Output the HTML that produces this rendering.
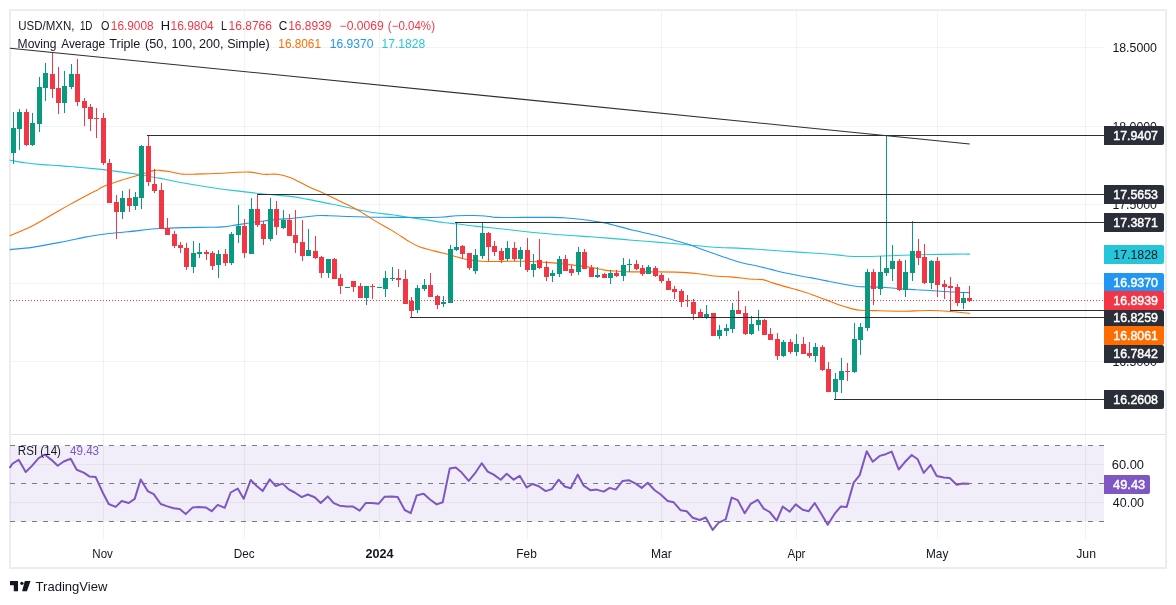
<!DOCTYPE html>
<html><head><meta charset="utf-8"><title>USD/MXN</title>
<style>html,body{margin:0;padding:0;background:#fff;}body{width:1176px;height:605px;position:relative;overflow:hidden;font-family:"Liberation Sans",sans-serif;}</style>
</head><body>
<svg width="1176" height="605" viewBox="0 0 1176 605" style="position:absolute;left:0;top:0;will-change:transform">
<g shape-rendering="crispEdges">
<rect x="10" y="10" width="1156" height="558" fill="none" stroke="#ebedf2" stroke-width="2"/>
<rect x="11" y="434" width="1154" height="1" fill="#e0e3eb"/>
<rect x="10" y="445.5" width="1094" height="76" fill="#7e57c2" fill-opacity="0.1" shape-rendering="auto"/>
<rect x="103" y="11" width="1" height="423" fill="#2a2e39" fill-opacity="0.06"/>
<rect x="103" y="435" width="1" height="104" fill="#1e222d" fill-opacity="0.06"/>
<rect x="244" y="11" width="1" height="423" fill="#2a2e39" fill-opacity="0.06"/>
<rect x="244" y="435" width="1" height="104" fill="#1e222d" fill-opacity="0.06"/>
<rect x="379" y="11" width="1" height="423" fill="#2a2e39" fill-opacity="0.06"/>
<rect x="379" y="435" width="1" height="104" fill="#1e222d" fill-opacity="0.06"/>
<rect x="527" y="11" width="1" height="423" fill="#2a2e39" fill-opacity="0.06"/>
<rect x="527" y="435" width="1" height="104" fill="#1e222d" fill-opacity="0.06"/>
<rect x="661" y="11" width="1" height="423" fill="#2a2e39" fill-opacity="0.06"/>
<rect x="661" y="435" width="1" height="104" fill="#1e222d" fill-opacity="0.06"/>
<rect x="796" y="11" width="1" height="423" fill="#2a2e39" fill-opacity="0.06"/>
<rect x="796" y="435" width="1" height="104" fill="#1e222d" fill-opacity="0.06"/>
<rect x="937" y="11" width="1" height="423" fill="#2a2e39" fill-opacity="0.06"/>
<rect x="937" y="435" width="1" height="104" fill="#1e222d" fill-opacity="0.06"/>
<rect x="1085" y="11" width="1" height="423" fill="#2a2e39" fill-opacity="0.06"/>
<rect x="1085" y="435" width="1" height="104" fill="#1e222d" fill-opacity="0.06"/>
<rect x="11" y="47" width="1093" height="1" fill="#2a2e39" fill-opacity="0.06"/>
<rect x="11" y="126" width="1093" height="1" fill="#2a2e39" fill-opacity="0.06"/>
<rect x="11" y="204" width="1093" height="1" fill="#2a2e39" fill-opacity="0.06"/>
<rect x="11" y="283" width="1093" height="1" fill="#2a2e39" fill-opacity="0.06"/>
<rect x="11" y="361" width="1093" height="1" fill="#2a2e39" fill-opacity="0.06"/>
<rect x="10" y="464" width="1094" height="1" fill="#1e222d" fill-opacity="0.06"/>
<rect x="10" y="502" width="1094" height="1" fill="#1e222d" fill-opacity="0.06"/>
</g>
<line x1="10" y1="445.5" x2="1104" y2="445.5" stroke="#787b86" stroke-width="1" stroke-dasharray="5 6" shape-rendering="crispEdges"/>
<line x1="10" y1="483.5" x2="1104" y2="483.5" stroke="#787b86" stroke-width="1" stroke-dasharray="5 6" shape-rendering="crispEdges"/>
<line x1="10" y1="521.5" x2="1104" y2="521.5" stroke="#787b86" stroke-width="1" stroke-dasharray="5 6" shape-rendering="crispEdges"/>
<g fill="none" stroke-width="1.1" stroke-linejoin="round" stroke-linecap="round">
<path d="M10.0 160.2 C12.5 160.6 19.7 162.1 25.0 162.8 C30.3 163.5 36.3 164.1 42.0 164.6 C47.7 165.1 53.3 165.2 59.0 165.6 C64.7 166.0 70.3 166.6 76.0 167.1 C81.7 167.6 87.8 168.1 93.0 168.6 C98.2 169.1 99.0 169.1 107.0 170.1 C115.0 171.1 133.0 173.6 141.0 174.8 C149.0 176.0 151.0 176.8 155.0 177.5 C159.0 178.2 160.5 178.3 165.0 179.2 C169.5 180.1 174.8 181.4 182.2 182.7 C189.6 184.0 200.3 185.8 209.4 187.2 C218.5 188.6 227.5 189.8 236.6 190.9 C245.7 192.0 254.9 193.1 263.8 194.0 C272.7 194.9 282.8 195.6 290.0 196.4 C297.2 197.2 301.3 198.1 307.0 199.1 C312.7 200.1 318.3 201.4 324.0 202.6 C329.7 203.8 335.4 204.8 341.1 206.0 C346.8 207.2 352.4 208.6 358.1 209.7 C363.8 210.8 369.4 212.0 375.1 212.8 C380.8 213.7 386.4 214.0 392.1 214.8 C397.8 215.6 403.4 216.6 409.1 217.4 C414.8 218.2 420.5 219.1 426.2 219.9 C431.9 220.8 437.5 221.8 443.2 222.5 C448.9 223.2 454.5 223.7 460.2 224.3 C465.9 225.0 469.0 225.5 477.2 226.4 C485.4 227.3 499.5 228.6 509.4 229.7 C519.3 230.8 527.5 231.8 536.6 232.7 C545.7 233.6 554.7 234.3 563.8 235.0 C572.9 235.7 584.1 236.3 591.0 236.8 C597.9 237.3 598.1 237.3 605.0 237.9 C611.9 238.5 623.1 239.4 632.2 240.2 C641.3 240.9 650.3 241.7 659.4 242.4 C668.5 243.2 677.5 243.9 686.6 244.7 C695.7 245.5 706.6 246.7 713.8 247.2 C721.0 247.7 722.8 247.6 730.0 247.9 C737.2 248.2 748.1 248.7 757.2 249.3 C766.3 249.9 775.3 250.7 784.4 251.3 C793.5 251.9 802.5 252.4 811.6 253.0 C820.7 253.6 832.7 254.5 838.8 255.1 C844.9 255.7 843.9 256.1 848.4 256.3 C852.9 256.5 859.1 256.6 866.0 256.5 C872.9 256.4 883.8 255.9 890.0 255.7 C896.2 255.5 896.3 255.4 903.0 255.2 C909.7 255.0 921.1 254.7 930.2 254.5 C939.3 254.3 950.8 254.2 957.4 254.1 C964.0 254.0 967.7 254.1 969.7 254.1" stroke="#26c6da"/>
<path d="M10.0 249.6 C13.7 249.2 24.0 248.6 32.2 247.4 C40.4 246.2 50.3 244.2 59.4 242.4 C68.5 240.7 79.3 238.3 86.6 236.9 C93.9 235.5 96.2 235.0 103.0 234.2 C109.8 233.3 118.8 232.7 127.4 231.8 C136.0 230.9 148.4 229.4 154.7 228.8 C161.0 228.2 160.4 228.6 165.0 228.4 C169.6 228.2 174.8 227.8 182.2 227.6 C189.6 227.4 202.6 227.4 209.4 227.3 C216.2 227.2 218.5 227.3 223.0 226.9 C227.5 226.5 232.1 225.6 236.6 224.9 C241.1 224.2 245.7 223.5 250.2 222.8 C254.7 222.2 259.3 221.6 263.8 221.0 C268.3 220.4 273.0 219.8 277.4 219.4 C281.8 219.0 286.2 218.9 290.0 218.6 C293.8 218.3 295.9 218.0 300.2 217.5 C304.4 217.0 310.7 216.0 315.5 215.7 C320.3 215.4 324.8 215.6 329.1 215.7 C333.4 215.8 336.3 216.0 341.1 216.2 C345.9 216.4 352.4 216.5 358.1 216.7 C363.8 216.9 369.4 217.1 375.1 217.2 C380.8 217.3 386.4 217.3 392.1 217.4 C397.8 217.5 403.4 217.5 409.1 217.5 C414.8 217.5 420.5 217.6 426.2 217.5 C431.9 217.4 438.1 217.3 443.2 217.0 C448.3 216.7 451.7 215.9 456.8 215.7 C461.9 215.4 468.3 215.4 473.8 215.5 C479.3 215.6 486.3 216.2 490.0 216.5 C493.7 216.8 490.3 217.2 495.8 217.4 C501.3 217.6 513.9 217.4 523.0 217.4 C532.1 217.4 543.4 217.4 550.2 217.4 C557.0 217.4 559.3 217.4 563.8 217.7 C568.3 218.0 572.9 218.5 577.4 219.0 C581.9 219.5 586.5 220.0 591.0 220.7 C595.5 221.3 601.0 222.2 604.7 222.9 C608.4 223.6 608.6 223.8 613.2 225.0 C617.8 226.2 624.5 228.1 632.2 230.0 C639.9 231.9 650.3 233.9 659.4 236.2 C668.5 238.5 679.8 241.7 686.6 243.8 C693.4 245.9 695.7 247.2 700.2 248.8 C704.7 250.4 708.8 251.9 713.8 253.6 C718.8 255.3 725.0 257.6 730.0 259.2 C735.0 260.8 739.1 262.1 743.6 263.2 C748.1 264.3 752.7 265.0 757.2 266.0 C761.7 267.0 766.3 268.3 770.8 269.4 C775.3 270.5 779.9 271.8 784.4 272.8 C788.9 273.8 793.5 274.6 798.0 275.5 C802.5 276.4 807.1 277.0 811.6 277.9 C816.1 278.8 820.7 279.7 825.2 280.6 C829.7 281.5 834.3 282.5 838.8 283.3 C843.3 284.1 848.8 285.1 852.4 285.7 C856.0 286.3 856.0 286.5 860.6 286.7 C865.2 286.9 874.9 286.9 879.7 287.1 C884.5 287.3 885.5 287.5 889.4 287.8 C893.3 288.1 898.5 288.7 903.0 289.0 C907.5 289.3 912.1 289.4 916.6 289.7 C921.1 289.9 925.7 290.2 930.2 290.5 C934.7 290.8 939.3 291.2 943.8 291.5 C948.3 291.8 953.2 292.0 957.4 292.2 C961.6 292.4 967.1 292.5 969.0 292.6" stroke="#2196f3"/>
<path d="M10.0 235.7 C13.7 234.1 24.0 230.2 32.2 226.0 C40.4 221.8 52.4 214.4 59.4 210.4 C66.4 206.4 69.9 204.5 74.4 202.0 C78.9 199.5 82.8 197.4 86.6 195.4 C90.4 193.4 94.8 191.4 97.5 190.0 C100.2 188.6 98.9 188.4 103.0 186.7 C107.1 185.0 115.7 182.1 122.0 180.0 C128.3 177.9 135.8 176.0 141.0 174.4 C146.2 172.8 150.1 171.3 153.3 170.6 C156.5 169.9 157.4 170.2 160.0 170.4 C162.6 170.6 164.9 170.9 168.6 171.5 C172.3 172.1 177.7 173.7 182.2 174.1 C186.7 174.5 191.3 174.2 195.8 174.1 C200.3 174.0 204.9 173.8 209.4 173.7 C213.9 173.5 218.5 173.4 223.0 173.2 C227.5 173.0 232.1 172.5 236.6 172.3 C241.1 172.1 245.7 171.8 250.2 172.1 C254.7 172.4 259.3 173.9 263.8 174.3 C268.3 174.7 273.0 173.8 277.4 174.3 C281.8 174.8 285.1 175.6 290.0 177.5 C294.9 179.4 301.3 183.2 307.0 185.9 C312.7 188.6 318.3 190.9 324.0 193.5 C329.7 196.1 335.4 198.9 341.1 201.7 C346.8 204.5 352.4 207.0 358.1 210.2 C363.8 213.4 369.4 217.5 375.1 220.9 C380.8 224.3 386.4 227.2 392.1 230.6 C397.8 234.0 404.6 238.7 409.1 241.4 C413.7 244.1 415.1 245.2 419.4 246.8 C423.7 248.4 429.9 249.8 434.7 251.1 C439.5 252.4 444.1 253.4 448.3 254.5 C452.6 255.6 456.8 257.0 460.2 257.9 C463.6 258.8 464.9 259.3 468.6 259.9 C472.3 260.5 477.7 261.0 482.2 261.3 C486.7 261.6 491.3 261.5 495.8 261.5 C500.3 261.5 504.9 261.3 509.4 261.3 C513.9 261.3 518.5 261.2 523.0 261.3 C527.5 261.4 532.1 261.5 536.6 261.7 C541.1 261.9 545.7 262.2 550.2 262.6 C554.7 263.0 559.3 263.5 563.8 264.0 C568.3 264.5 572.9 265.0 577.4 265.6 C581.9 266.2 586.5 266.6 591.0 267.4 C595.5 268.1 600.7 269.5 604.7 270.1 C608.7 270.7 610.4 270.7 615.0 271.0 C619.6 271.3 624.8 271.8 632.2 271.9 C639.6 272.0 650.3 271.8 659.4 271.9 C668.5 272.0 679.8 272.2 686.6 272.6 C693.4 273.0 695.7 273.4 700.2 274.0 C704.7 274.6 708.8 275.5 713.8 276.0 C718.8 276.5 725.0 276.5 730.0 276.9 C735.0 277.3 740.0 277.9 743.6 278.3 C747.2 278.7 748.6 279.0 751.8 279.2 C755.0 279.4 759.5 279.1 762.7 279.6 C765.9 280.1 767.2 281.2 770.8 282.3 C774.4 283.4 779.9 285.1 784.4 286.4 C788.9 287.7 793.5 288.8 798.0 290.1 C802.5 291.5 807.1 292.9 811.6 294.5 C816.1 296.1 820.7 297.9 825.2 299.6 C829.7 301.3 834.3 303.2 838.8 304.8 C843.3 306.4 848.8 308.0 852.4 308.9 C856.0 309.8 856.0 309.9 860.6 310.2 C865.2 310.5 872.6 310.6 879.7 310.8 C886.8 311.0 894.6 311.2 903.0 311.2 C911.4 311.1 922.3 310.4 930.2 310.5 C938.1 310.6 944.0 311.0 950.6 311.5 C957.2 312.0 966.5 313.0 969.7 313.3" stroke="#ff6d00"/>
</g>
<g shape-rendering="crispEdges">
<rect x="13" y="112" width="1" height="52" fill="#089981"/>
<rect x="11" y="128" width="5" height="25" fill="#089981"/>
<rect x="19" y="109" width="1" height="41" fill="#089981"/>
<rect x="17" y="112" width="5" height="17" fill="#089981"/>
<rect x="26" y="109" width="1" height="37" fill="#f23645"/>
<rect x="24" y="112" width="5" height="33" fill="#f23645"/>
<rect x="32" y="113" width="1" height="33" fill="#089981"/>
<rect x="30" y="123" width="5" height="22" fill="#089981"/>
<rect x="39" y="77" width="1" height="55" fill="#089981"/>
<rect x="37" y="87" width="5" height="37" fill="#089981"/>
<rect x="45" y="63" width="1" height="38" fill="#089981"/>
<rect x="43" y="73" width="5" height="15" fill="#089981"/>
<rect x="52" y="52" width="1" height="46" fill="#f23645"/>
<rect x="50" y="74" width="5" height="15" fill="#f23645"/>
<rect x="58" y="67" width="1" height="47" fill="#f23645"/>
<rect x="56" y="88" width="5" height="15" fill="#f23645"/>
<rect x="64" y="71" width="1" height="42" fill="#089981"/>
<rect x="62" y="86" width="5" height="17" fill="#089981"/>
<rect x="71" y="64" width="1" height="25" fill="#089981"/>
<rect x="69" y="74" width="5" height="13" fill="#089981"/>
<rect x="77" y="59" width="1" height="47" fill="#f23645"/>
<rect x="75" y="74" width="5" height="28" fill="#f23645"/>
<rect x="84" y="98" width="1" height="28" fill="#f23645"/>
<rect x="82" y="101" width="5" height="7" fill="#f23645"/>
<rect x="90" y="104" width="1" height="27" fill="#f23645"/>
<rect x="88" y="107" width="5" height="12" fill="#f23645"/>
<rect x="96" y="108" width="1" height="30" fill="#f23645"/>
<rect x="94" y="118" width="5" height="1" fill="#f23645"/>
<rect x="103" y="113" width="1" height="52" fill="#f23645"/>
<rect x="101" y="118" width="5" height="45" fill="#f23645"/>
<rect x="109" y="159" width="1" height="44" fill="#f23645"/>
<rect x="107" y="163" width="5" height="40" fill="#f23645"/>
<rect x="116" y="195" width="1" height="44" fill="#f23645"/>
<rect x="114" y="202" width="5" height="10" fill="#f23645"/>
<rect x="122" y="191" width="1" height="28" fill="#089981"/>
<rect x="120" y="198" width="5" height="14" fill="#089981"/>
<rect x="129" y="189" width="1" height="23" fill="#f23645"/>
<rect x="127" y="198" width="5" height="8" fill="#f23645"/>
<rect x="135" y="192" width="1" height="18" fill="#089981"/>
<rect x="133" y="197" width="5" height="9" fill="#089981"/>
<rect x="141" y="145" width="1" height="64" fill="#089981"/>
<rect x="139" y="146" width="5" height="52" fill="#089981"/>
<rect x="148" y="135" width="1" height="51" fill="#f23645"/>
<rect x="146" y="146" width="5" height="36" fill="#f23645"/>
<rect x="154" y="169" width="1" height="24" fill="#f23645"/>
<rect x="152" y="184" width="5" height="7" fill="#f23645"/>
<rect x="161" y="183" width="1" height="46" fill="#f23645"/>
<rect x="159" y="190" width="5" height="39" fill="#f23645"/>
<rect x="167" y="218" width="1" height="17" fill="#f23645"/>
<rect x="165" y="228" width="5" height="7" fill="#f23645"/>
<rect x="174" y="231" width="1" height="17" fill="#f23645"/>
<rect x="172" y="234" width="5" height="12" fill="#f23645"/>
<rect x="180" y="242" width="1" height="11" fill="#f23645"/>
<rect x="178" y="245" width="5" height="3" fill="#f23645"/>
<rect x="186" y="243" width="1" height="27" fill="#f23645"/>
<rect x="184" y="248" width="5" height="19" fill="#f23645"/>
<rect x="193" y="241" width="1" height="32" fill="#089981"/>
<rect x="191" y="253" width="5" height="14" fill="#089981"/>
<rect x="199" y="243" width="1" height="15" fill="#089981"/>
<rect x="197" y="252" width="5" height="2" fill="#089981"/>
<rect x="206" y="250" width="1" height="10" fill="#f23645"/>
<rect x="204" y="252" width="5" height="2" fill="#f23645"/>
<rect x="212" y="251" width="1" height="19" fill="#f23645"/>
<rect x="210" y="253" width="5" height="13" fill="#f23645"/>
<rect x="218" y="250" width="1" height="28" fill="#089981"/>
<rect x="216" y="254" width="5" height="11" fill="#089981"/>
<rect x="225" y="249" width="1" height="17" fill="#f23645"/>
<rect x="223" y="254" width="5" height="9" fill="#f23645"/>
<rect x="231" y="232" width="1" height="33" fill="#089981"/>
<rect x="229" y="234" width="5" height="29" fill="#089981"/>
<rect x="238" y="205" width="1" height="38" fill="#089981"/>
<rect x="236" y="226" width="5" height="9" fill="#089981"/>
<rect x="244" y="219" width="1" height="39" fill="#f23645"/>
<rect x="242" y="226" width="5" height="27" fill="#f23645"/>
<rect x="251" y="198" width="1" height="56" fill="#089981"/>
<rect x="249" y="209" width="5" height="45" fill="#089981"/>
<rect x="257" y="194" width="1" height="33" fill="#f23645"/>
<rect x="255" y="209" width="5" height="16" fill="#f23645"/>
<rect x="263" y="221" width="1" height="24" fill="#f23645"/>
<rect x="261" y="224" width="5" height="15" fill="#f23645"/>
<rect x="270" y="198" width="1" height="43" fill="#089981"/>
<rect x="268" y="209" width="5" height="30" fill="#089981"/>
<rect x="276" y="201" width="1" height="34" fill="#f23645"/>
<rect x="274" y="209" width="5" height="18" fill="#f23645"/>
<rect x="283" y="210" width="1" height="19" fill="#089981"/>
<rect x="281" y="220" width="5" height="8" fill="#089981"/>
<rect x="289" y="214" width="1" height="22" fill="#f23645"/>
<rect x="287" y="220" width="5" height="16" fill="#f23645"/>
<rect x="295" y="210" width="1" height="43" fill="#f23645"/>
<rect x="293" y="235" width="5" height="8" fill="#f23645"/>
<rect x="302" y="220" width="1" height="41" fill="#f23645"/>
<rect x="300" y="242" width="5" height="14" fill="#f23645"/>
<rect x="308" y="229" width="1" height="27" fill="#089981"/>
<rect x="306" y="250" width="5" height="6" fill="#089981"/>
<rect x="315" y="236" width="1" height="23" fill="#f23645"/>
<rect x="313" y="251" width="5" height="7" fill="#f23645"/>
<rect x="321" y="256" width="1" height="22" fill="#f23645"/>
<rect x="319" y="257" width="5" height="16" fill="#f23645"/>
<rect x="328" y="259" width="1" height="19" fill="#089981"/>
<rect x="326" y="259" width="5" height="14" fill="#089981"/>
<rect x="334" y="258" width="1" height="21" fill="#f23645"/>
<rect x="332" y="259" width="5" height="20" fill="#f23645"/>
<rect x="340" y="274" width="1" height="20" fill="#f23645"/>
<rect x="338" y="278" width="5" height="8" fill="#f23645"/>
<rect x="345" y="287" width="5" height="1" fill="#089981"/>
<rect x="353" y="281" width="1" height="11" fill="#f23645"/>
<rect x="351" y="281" width="5" height="6" fill="#f23645"/>
<rect x="360" y="283" width="1" height="15" fill="#f23645"/>
<rect x="358" y="286" width="5" height="12" fill="#f23645"/>
<rect x="366" y="286" width="1" height="19" fill="#089981"/>
<rect x="364" y="286" width="5" height="12" fill="#089981"/>
<rect x="372" y="284" width="1" height="15" fill="#f23645"/>
<rect x="370" y="286" width="5" height="1" fill="#f23645"/>
<rect x="377" y="287" width="5" height="1" fill="#089981"/>
<rect x="385" y="271" width="1" height="26" fill="#089981"/>
<rect x="383" y="278" width="5" height="11" fill="#089981"/>
<rect x="392" y="267" width="1" height="14" fill="#089981"/>
<rect x="390" y="278" width="5" height="1" fill="#089981"/>
<rect x="398" y="269" width="1" height="18" fill="#f23645"/>
<rect x="396" y="278" width="5" height="2" fill="#f23645"/>
<rect x="405" y="270" width="1" height="34" fill="#f23645"/>
<rect x="403" y="279" width="5" height="25" fill="#f23645"/>
<rect x="411" y="297" width="1" height="20" fill="#f23645"/>
<rect x="409" y="301" width="5" height="10" fill="#f23645"/>
<rect x="417" y="285" width="1" height="28" fill="#089981"/>
<rect x="415" y="288" width="5" height="22" fill="#089981"/>
<rect x="424" y="279" width="1" height="12" fill="#089981"/>
<rect x="422" y="285" width="5" height="4" fill="#089981"/>
<rect x="430" y="273" width="1" height="24" fill="#f23645"/>
<rect x="428" y="285" width="5" height="12" fill="#f23645"/>
<rect x="437" y="295" width="1" height="14" fill="#f23645"/>
<rect x="435" y="296" width="5" height="9" fill="#f23645"/>
<rect x="443" y="296" width="1" height="11" fill="#089981"/>
<rect x="441" y="302" width="5" height="2" fill="#089981"/>
<rect x="450" y="245" width="1" height="58" fill="#089981"/>
<rect x="448" y="249" width="5" height="54" fill="#089981"/>
<rect x="456" y="222" width="1" height="29" fill="#089981"/>
<rect x="454" y="247" width="5" height="3" fill="#089981"/>
<rect x="462" y="245" width="1" height="14" fill="#f23645"/>
<rect x="460" y="246" width="5" height="8" fill="#f23645"/>
<rect x="469" y="253" width="1" height="17" fill="#f23645"/>
<rect x="467" y="253" width="5" height="15" fill="#f23645"/>
<rect x="475" y="249" width="1" height="25" fill="#089981"/>
<rect x="473" y="255" width="5" height="16" fill="#089981"/>
<rect x="482" y="222" width="1" height="37" fill="#089981"/>
<rect x="480" y="233" width="5" height="23" fill="#089981"/>
<rect x="488" y="232" width="1" height="29" fill="#f23645"/>
<rect x="486" y="233" width="5" height="14" fill="#f23645"/>
<rect x="494" y="241" width="1" height="15" fill="#f23645"/>
<rect x="492" y="246" width="5" height="6" fill="#f23645"/>
<rect x="501" y="248" width="1" height="15" fill="#f23645"/>
<rect x="499" y="251" width="5" height="9" fill="#f23645"/>
<rect x="507" y="241" width="1" height="20" fill="#089981"/>
<rect x="505" y="248" width="5" height="11" fill="#089981"/>
<rect x="514" y="242" width="1" height="19" fill="#f23645"/>
<rect x="512" y="248" width="5" height="11" fill="#f23645"/>
<rect x="520" y="247" width="1" height="20" fill="#089981"/>
<rect x="518" y="250" width="5" height="9" fill="#089981"/>
<rect x="527" y="238" width="1" height="34" fill="#f23645"/>
<rect x="525" y="250" width="5" height="20" fill="#f23645"/>
<rect x="533" y="254" width="1" height="23" fill="#089981"/>
<rect x="531" y="264" width="5" height="6" fill="#089981"/>
<rect x="539" y="239" width="1" height="30" fill="#f23645"/>
<rect x="537" y="260" width="5" height="8" fill="#f23645"/>
<rect x="546" y="261" width="1" height="20" fill="#f23645"/>
<rect x="544" y="267" width="5" height="10" fill="#f23645"/>
<rect x="552" y="270" width="1" height="12" fill="#089981"/>
<rect x="550" y="273" width="5" height="3" fill="#089981"/>
<rect x="559" y="256" width="1" height="21" fill="#089981"/>
<rect x="557" y="259" width="5" height="15" fill="#089981"/>
<rect x="565" y="255" width="1" height="16" fill="#f23645"/>
<rect x="563" y="259" width="5" height="12" fill="#f23645"/>
<rect x="571" y="265" width="1" height="11" fill="#f23645"/>
<rect x="569" y="269" width="5" height="4" fill="#f23645"/>
<rect x="578" y="247" width="1" height="28" fill="#089981"/>
<rect x="576" y="252" width="5" height="20" fill="#089981"/>
<rect x="584" y="249" width="1" height="20" fill="#f23645"/>
<rect x="582" y="252" width="5" height="17" fill="#f23645"/>
<rect x="591" y="265" width="1" height="12" fill="#f23645"/>
<rect x="589" y="268" width="5" height="9" fill="#f23645"/>
<rect x="597" y="267" width="1" height="11" fill="#089981"/>
<rect x="595" y="275" width="5" height="2" fill="#089981"/>
<rect x="604" y="273" width="1" height="5" fill="#f23645"/>
<rect x="602" y="274" width="5" height="4" fill="#f23645"/>
<rect x="610" y="270" width="1" height="14" fill="#089981"/>
<rect x="608" y="273" width="5" height="5" fill="#089981"/>
<rect x="616" y="270" width="1" height="7" fill="#f23645"/>
<rect x="614" y="273" width="5" height="3" fill="#f23645"/>
<rect x="623" y="258" width="1" height="23" fill="#089981"/>
<rect x="621" y="265" width="5" height="11" fill="#089981"/>
<rect x="629" y="259" width="1" height="13" fill="#089981"/>
<rect x="627" y="264" width="5" height="1" fill="#089981"/>
<rect x="636" y="260" width="1" height="10" fill="#f23645"/>
<rect x="634" y="264" width="5" height="5" fill="#f23645"/>
<rect x="642" y="265" width="1" height="11" fill="#f23645"/>
<rect x="640" y="268" width="5" height="6" fill="#f23645"/>
<rect x="648" y="265" width="1" height="9" fill="#089981"/>
<rect x="646" y="267" width="5" height="7" fill="#089981"/>
<rect x="655" y="266" width="1" height="11" fill="#f23645"/>
<rect x="653" y="268" width="5" height="8" fill="#f23645"/>
<rect x="661" y="273" width="1" height="10" fill="#f23645"/>
<rect x="659" y="275" width="5" height="6" fill="#f23645"/>
<rect x="668" y="278" width="1" height="12" fill="#f23645"/>
<rect x="666" y="281" width="5" height="9" fill="#f23645"/>
<rect x="674" y="286" width="1" height="13" fill="#f23645"/>
<rect x="672" y="289" width="5" height="3" fill="#f23645"/>
<rect x="681" y="289" width="1" height="18" fill="#f23645"/>
<rect x="679" y="291" width="5" height="11" fill="#f23645"/>
<rect x="687" y="295" width="1" height="12" fill="#f23645"/>
<rect x="685" y="300" width="5" height="1" fill="#f23645"/>
<rect x="693" y="299" width="1" height="21" fill="#f23645"/>
<rect x="691" y="302" width="5" height="12" fill="#f23645"/>
<rect x="700" y="309" width="1" height="8" fill="#f23645"/>
<rect x="698" y="312" width="5" height="5" fill="#f23645"/>
<rect x="706" y="305" width="1" height="14" fill="#089981"/>
<rect x="704" y="314" width="5" height="3" fill="#089981"/>
<rect x="711" y="313" width="5" height="23" fill="#f23645"/>
<rect x="719" y="325" width="1" height="14" fill="#089981"/>
<rect x="717" y="330" width="5" height="6" fill="#089981"/>
<rect x="726" y="324" width="1" height="12" fill="#089981"/>
<rect x="724" y="328" width="5" height="3" fill="#089981"/>
<rect x="732" y="303" width="1" height="30" fill="#089981"/>
<rect x="730" y="310" width="5" height="19" fill="#089981"/>
<rect x="738" y="291" width="1" height="23" fill="#f23645"/>
<rect x="736" y="310" width="5" height="4" fill="#f23645"/>
<rect x="745" y="306" width="1" height="29" fill="#f23645"/>
<rect x="743" y="313" width="5" height="21" fill="#f23645"/>
<rect x="751" y="316" width="1" height="19" fill="#089981"/>
<rect x="749" y="324" width="5" height="10" fill="#089981"/>
<rect x="758" y="310" width="1" height="21" fill="#089981"/>
<rect x="756" y="320" width="5" height="5" fill="#089981"/>
<rect x="764" y="319" width="1" height="16" fill="#f23645"/>
<rect x="762" y="320" width="5" height="15" fill="#f23645"/>
<rect x="770" y="328" width="1" height="12" fill="#f23645"/>
<rect x="768" y="334" width="5" height="6" fill="#f23645"/>
<rect x="777" y="333" width="1" height="27" fill="#f23645"/>
<rect x="775" y="339" width="5" height="17" fill="#f23645"/>
<rect x="783" y="340" width="1" height="17" fill="#089981"/>
<rect x="781" y="342" width="5" height="14" fill="#089981"/>
<rect x="790" y="339" width="1" height="15" fill="#f23645"/>
<rect x="788" y="342" width="5" height="10" fill="#f23645"/>
<rect x="796" y="334" width="1" height="22" fill="#089981"/>
<rect x="794" y="344" width="5" height="8" fill="#089981"/>
<rect x="803" y="337" width="1" height="17" fill="#f23645"/>
<rect x="801" y="344" width="5" height="10" fill="#f23645"/>
<rect x="809" y="342" width="1" height="16" fill="#f23645"/>
<rect x="807" y="353" width="5" height="3" fill="#f23645"/>
<rect x="815" y="343" width="1" height="19" fill="#089981"/>
<rect x="813" y="347" width="5" height="9" fill="#089981"/>
<rect x="822" y="345" width="1" height="26" fill="#f23645"/>
<rect x="820" y="347" width="5" height="23" fill="#f23645"/>
<rect x="828" y="362" width="1" height="30" fill="#f23645"/>
<rect x="826" y="369" width="5" height="23" fill="#f23645"/>
<rect x="835" y="373" width="1" height="27" fill="#089981"/>
<rect x="833" y="379" width="5" height="13" fill="#089981"/>
<rect x="841" y="358" width="1" height="35" fill="#089981"/>
<rect x="839" y="371" width="5" height="9" fill="#089981"/>
<rect x="847" y="363" width="1" height="18" fill="#f23645"/>
<rect x="845" y="371" width="5" height="1" fill="#f23645"/>
<rect x="854" y="323" width="1" height="50" fill="#089981"/>
<rect x="852" y="339" width="5" height="33" fill="#089981"/>
<rect x="860" y="323" width="1" height="32" fill="#089981"/>
<rect x="858" y="327" width="5" height="13" fill="#089981"/>
<rect x="867" y="269" width="1" height="62" fill="#089981"/>
<rect x="865" y="272" width="5" height="56" fill="#089981"/>
<rect x="873" y="269" width="1" height="36" fill="#f23645"/>
<rect x="871" y="272" width="5" height="17" fill="#f23645"/>
<rect x="880" y="256" width="1" height="39" fill="#089981"/>
<rect x="878" y="272" width="5" height="17" fill="#089981"/>
<rect x="886" y="136" width="1" height="140" fill="#089981"/>
<rect x="884" y="268" width="5" height="5" fill="#089981"/>
<rect x="892" y="245" width="1" height="36" fill="#089981"/>
<rect x="890" y="261" width="5" height="8" fill="#089981"/>
<rect x="899" y="259" width="1" height="32" fill="#f23645"/>
<rect x="897" y="261" width="5" height="29" fill="#f23645"/>
<rect x="905" y="260" width="1" height="37" fill="#089981"/>
<rect x="903" y="272" width="5" height="18" fill="#089981"/>
<rect x="912" y="221" width="1" height="60" fill="#089981"/>
<rect x="910" y="251" width="5" height="22" fill="#089981"/>
<rect x="918" y="239" width="1" height="26" fill="#f23645"/>
<rect x="916" y="251" width="5" height="7" fill="#f23645"/>
<rect x="924" y="244" width="1" height="40" fill="#f23645"/>
<rect x="922" y="257" width="5" height="26" fill="#f23645"/>
<rect x="931" y="260" width="1" height="29" fill="#089981"/>
<rect x="929" y="261" width="5" height="22" fill="#089981"/>
<rect x="937" y="257" width="1" height="40" fill="#f23645"/>
<rect x="935" y="261" width="5" height="24" fill="#f23645"/>
<rect x="944" y="280" width="1" height="19" fill="#f23645"/>
<rect x="942" y="284" width="5" height="3" fill="#f23645"/>
<rect x="950" y="277" width="1" height="33" fill="#f23645"/>
<rect x="948" y="286" width="5" height="2" fill="#f23645"/>
<rect x="957" y="284" width="1" height="22" fill="#f23645"/>
<rect x="955" y="287" width="5" height="16" fill="#f23645"/>
<rect x="963" y="292" width="1" height="17" fill="#089981"/>
<rect x="961" y="298" width="5" height="5" fill="#089981"/>
<rect x="969" y="286" width="1" height="16" fill="#f23645"/>
<rect x="967" y="298" width="5" height="3" fill="#f23645"/>
</g>
<line x1="10" y1="300.5" x2="1104" y2="300.5" stroke="#f23645" stroke-width="1" stroke-dasharray="1 2" shape-rendering="crispEdges"/>
<g shape-rendering="crispEdges" fill="#2a2e39">
<rect x="147" y="135" width="957" height="1"/>
<rect x="257" y="194" width="847" height="1"/>
<rect x="455" y="222" width="649" height="1"/>
<rect x="950" y="310" width="154" height="1"/>
<rect x="410" y="317" width="694" height="1"/>
<rect x="834" y="399" width="270" height="1"/>
</g>
<line x1="10" y1="48.2" x2="969.7" y2="144" stroke="#2a2e39" stroke-width="1.1"/>
<path d="M10.0 467.3 L12.7 463.5 L18.7 459.8 L25.7 472.0 L31.7 466.1 L38.7 458.1 L44.7 454.5 L51.7 460.1 L57.7 465.7 L63.7 461.5 L70.7 458.8 L76.7 469.8 L83.7 472.6 L89.7 476.6 L95.7 477.1 L102.7 492.5 L108.7 504.0 L115.7 506.9 L121.7 501.0 L128.7 503.0 L134.7 498.9 L140.7 479.4 L147.7 491.1 L153.7 494.2 L160.7 504.0 L166.7 506.1 L173.7 508.3 L179.7 509.1 L185.7 514.1 L192.7 507.4 L198.7 506.9 L205.7 507.4 L211.7 511.2 L217.7 504.9 L224.7 507.8 L230.7 492.5 L237.7 488.6 L243.7 498.8 L250.7 480.0 L256.7 486.0 L262.7 491.1 L269.7 479.4 L275.7 486.0 L282.7 483.6 L288.7 489.4 L294.7 492.5 L301.7 497.1 L307.7 494.5 L314.7 497.2 L320.7 503.0 L327.7 496.4 L333.7 503.2 L339.7 505.7 L346.7 506.6 L352.7 506.4 L359.7 510.7 L365.7 503.0 L371.7 503.0 L378.7 503.7 L384.7 496.7 L391.7 496.4 L397.7 497.1 L404.7 510.0 L410.7 513.2 L416.7 495.4 L423.7 493.7 L429.7 499.3 L436.7 504.4 L442.7 502.3 L449.7 468.6 L455.7 467.4 L461.7 472.6 L468.7 480.9 L474.7 473.7 L481.7 463.2 L487.7 471.7 L493.7 474.6 L500.7 479.7 L506.7 473.7 L513.7 479.7 L519.7 475.8 L526.7 487.4 L532.7 484.0 L538.7 486.2 L545.7 491.1 L551.7 489.1 L558.7 479.7 L564.7 486.5 L570.7 488.2 L577.7 474.6 L583.7 485.7 L590.7 490.3 L596.7 489.6 L603.7 491.6 L609.7 487.9 L615.7 489.6 L622.7 480.9 L628.7 480.2 L635.7 483.6 L641.7 487.9 L647.7 482.8 L654.7 490.3 L660.7 494.5 L667.7 501.0 L673.7 502.3 L680.7 510.3 L686.7 511.2 L692.7 517.7 L699.7 520.0 L705.7 517.5 L712.7 529.9 L718.7 522.6 L725.7 519.4 L731.7 497.6 L737.7 500.1 L744.7 513.2 L750.7 503.9 L757.7 499.8 L763.7 508.6 L769.7 512.0 L776.7 520.6 L782.7 506.6 L789.7 511.7 L795.7 504.4 L802.7 509.8 L808.7 511.2 L814.7 503.0 L821.7 514.6 L827.7 524.8 L834.7 513.7 L840.7 506.6 L846.7 506.9 L853.7 482.6 L859.7 475.1 L866.7 451.3 L872.7 461.8 L879.7 455.9 L885.7 454.2 L891.7 451.6 L898.7 469.5 L904.7 462.3 L911.7 455.0 L917.7 459.3 L923.7 472.9 L930.7 464.9 L936.7 476.0 L943.7 477.5 L949.7 478.0 L956.7 484.8 L962.7 483.6 L968.7 483.8" fill="none" stroke="#7e57c2" stroke-width="2" stroke-linejoin="round" stroke-linecap="round"/>
<g font-family="'Liberation Sans', sans-serif">
<text x="1112.4" y="51.8" fill="#131722" font-size="12.4" font-weight="normal" textLength="44.59" lengthAdjust="spacingAndGlyphs">18.5000</text>
<text x="1112.4" y="130.7" fill="#131722" font-size="12.4" font-weight="normal" textLength="44.59" lengthAdjust="spacingAndGlyphs">18.0000</text>
<text x="1112.4" y="209.20000000000002" fill="#131722" font-size="12.4" font-weight="normal" textLength="44.59" lengthAdjust="spacingAndGlyphs">17.5000</text>
<text x="1112.4" y="287.7" fill="#131722" font-size="12.4" font-weight="normal" textLength="44.59" lengthAdjust="spacingAndGlyphs">17.0000</text>
<text x="1112.4" y="366.2" fill="#131722" font-size="12.4" font-weight="normal" textLength="44.59" lengthAdjust="spacingAndGlyphs">16.5000</text>
<text x="1111.76" y="469.09999999999997" fill="#131722" font-size="12.4" font-weight="normal" textLength="32.26" lengthAdjust="spacingAndGlyphs">60.00</text>
<text x="1112.8" y="507.0" fill="#131722" font-size="12.4" font-weight="normal" textLength="31.22" lengthAdjust="spacingAndGlyphs">40.00</text>
<path d="M1104 126 H1162 a2 2 0 0 1 2 2 V143 a2 2 0 0 1 -2 2 H1104 Z" fill="#2a2e39"/>
<path d="M1104 185 H1162 a2 2 0 0 1 2 2 V202 a2 2 0 0 1 -2 2 H1104 Z" fill="#2a2e39"/>
<path d="M1104 213 H1162 a2 2 0 0 1 2 2 V230 a2 2 0 0 1 -2 2 H1104 Z" fill="#2a2e39"/>
<path d="M1104 245 H1162 a2 2 0 0 1 2 2 V262 a2 2 0 0 1 -2 2 H1104 Z" fill="#26c6da"/>
<path d="M1104 273 H1162 a2 2 0 0 1 2 2 V290 a2 2 0 0 1 -2 2 H1104 Z" fill="#2196f3"/>
<path d="M1104 291 H1162 a2 2 0 0 1 2 2 V308 a2 2 0 0 1 -2 2 H1104 Z" fill="#f23645"/>
<path d="M1104 310 H1162 a2 2 0 0 1 2 2 V326 a2 2 0 0 1 -2 2 H1104 Z" fill="#2a2e39"/>
<path d="M1104 326 H1162 a2 2 0 0 1 2 2 V343 a2 2 0 0 1 -2 2 H1104 Z" fill="#ff6d00"/>
<path d="M1104 345 H1162 a2 2 0 0 1 2 2 V361 a2 2 0 0 1 -2 2 H1104 Z" fill="#2a2e39"/>
<path d="M1104 390 H1162 a2 2 0 0 1 2 2 V407 a2 2 0 0 1 -2 2 H1104 Z" fill="#2a2e39"/>
<path d="M1104 475 H1148 a2 2 0 0 1 2 2 V492 a2 2 0 0 1 -2 2 H1104 Z" fill="#7e57c2"/>
<text x="1113.3" y="140.0" fill="#ffffff" font-size="12.4" font-weight="normal" textLength="44.7" lengthAdjust="spacingAndGlyphs" stroke="#ffffff" stroke-width="0.45">17.9407</text>
<text x="1113.3" y="199.0" fill="#ffffff" font-size="12.4" font-weight="normal" textLength="44.7" lengthAdjust="spacingAndGlyphs" stroke="#ffffff" stroke-width="0.45">17.5653</text>
<text x="1113.3" y="227.0" fill="#ffffff" font-size="12.4" font-weight="normal" textLength="44.7" lengthAdjust="spacingAndGlyphs" stroke="#ffffff" stroke-width="0.45">17.3871</text>
<text x="1113.3" y="259.0" fill="#131722" font-size="12.4" font-weight="normal" textLength="44.7" lengthAdjust="spacingAndGlyphs">17.1828</text>
<text x="1113.3" y="287.0" fill="#ffffff" font-size="12.4" font-weight="normal" textLength="44.7" lengthAdjust="spacingAndGlyphs" stroke="#ffffff" stroke-width="0.45">16.9370</text>
<text x="1113.3" y="305.0" fill="#ffffff" font-size="12.4" font-weight="normal" textLength="44.7" lengthAdjust="spacingAndGlyphs" stroke="#ffffff" stroke-width="0.45">16.8939</text>
<text x="1113.3" y="322.3" fill="#ffffff" font-size="12.4" font-weight="normal" textLength="44.7" lengthAdjust="spacingAndGlyphs" stroke="#ffffff" stroke-width="0.45">16.8259</text>
<text x="1113.3" y="340.0" fill="#ffffff" font-size="12.4" font-weight="normal" textLength="44.7" lengthAdjust="spacingAndGlyphs" stroke="#ffffff" stroke-width="0.45">16.8061</text>
<text x="1113.3" y="358.2" fill="#ffffff" font-size="12.4" font-weight="normal" textLength="44.7" lengthAdjust="spacingAndGlyphs" stroke="#ffffff" stroke-width="0.45">16.7842</text>
<text x="1113.3" y="404.0" fill="#ffffff" font-size="12.4" font-weight="normal" textLength="44.7" lengthAdjust="spacingAndGlyphs" stroke="#ffffff" stroke-width="0.45">16.2608</text>
<text x="1113.1" y="489.0" fill="#ffffff" font-size="12.4" font-weight="normal" textLength="32.12" lengthAdjust="spacingAndGlyphs" stroke="#ffffff" stroke-width="0.45">49.43</text>
<text x="92.35" y="557.8" fill="#131722" font-size="12.2" font-weight="normal" textLength="20.55" lengthAdjust="spacingAndGlyphs">Nov</text>
<text x="233.83" y="557.8" fill="#131722" font-size="12.2" font-weight="normal" textLength="20.93" lengthAdjust="spacingAndGlyphs">Dec</text>
<text x="365.4" y="557.8" fill="#131722" font-size="12.6" font-weight="bold" textLength="28.13" lengthAdjust="spacingAndGlyphs">2024</text>
<text x="516.32" y="557.8" fill="#131722" font-size="12.2" font-weight="normal" textLength="20.49" lengthAdjust="spacingAndGlyphs">Feb</text>
<text x="650.9" y="557.8" fill="#131722" font-size="12.2" font-weight="normal" textLength="20.9" lengthAdjust="spacingAndGlyphs">Mar</text>
<text x="787.45" y="557.8" fill="#131722" font-size="12.2" font-weight="normal" textLength="17.97" lengthAdjust="spacingAndGlyphs">Apr</text>
<text x="926.03" y="557.8" fill="#131722" font-size="12.2" font-weight="normal" textLength="22.3" lengthAdjust="spacingAndGlyphs">May</text>
<text x="1076.2" y="557.8" fill="#131722" font-size="12.2" font-weight="normal" textLength="19.76" lengthAdjust="spacingAndGlyphs">Jun</text>
<text x="18.24" y="29.8" fill="#131722" font-size="12" font-weight="normal" textLength="56.2" lengthAdjust="spacingAndGlyphs">USD/MXN,</text>
<text x="79.89" y="29.8" fill="#131722" font-size="12" font-weight="normal" textLength="12.49" lengthAdjust="spacingAndGlyphs">1D</text>
<text x="101.1" y="29.8" fill="#131722" font-size="12" font-weight="normal" textLength="8.41" lengthAdjust="spacingAndGlyphs">O</text>
<text x="110.81" y="29.8" fill="#f23645" font-size="12" font-weight="normal" textLength="42.77" lengthAdjust="spacingAndGlyphs">16.9008</text>
<text x="160.73" y="29.8" fill="#131722" font-size="12" font-weight="normal" textLength="9.29" lengthAdjust="spacingAndGlyphs">H</text>
<text x="170.5" y="29.8" fill="#f23645" font-size="12" font-weight="normal" textLength="43.29" lengthAdjust="spacingAndGlyphs">16.9804</text>
<text x="221.02" y="29.8" fill="#131722" font-size="12" font-weight="normal" textLength="5.91" lengthAdjust="spacingAndGlyphs">L</text>
<text x="228.6" y="29.8" fill="#f23645" font-size="12" font-weight="normal" textLength="43.39" lengthAdjust="spacingAndGlyphs">16.8766</text>
<text x="278.81" y="29.8" fill="#131722" font-size="12" font-weight="normal" textLength="8.55" lengthAdjust="spacingAndGlyphs">C</text>
<text x="288.2" y="29.8" fill="#f23645" font-size="12" font-weight="normal" textLength="43.29" lengthAdjust="spacingAndGlyphs">16.8939</text>
<text x="339.59" y="29.8" fill="#f23645" font-size="12" font-weight="normal" textLength="44.14" lengthAdjust="spacingAndGlyphs">−0.0069</text>
<text x="387.84" y="29.8" fill="#f23645" font-size="12" font-weight="normal" textLength="47.15" lengthAdjust="spacingAndGlyphs">(−0.04%)</text>
<text x="17.59" y="47.9" fill="#131722" font-size="12" font-weight="normal" textLength="38.9" lengthAdjust="spacingAndGlyphs">Moving</text>
<text x="61.3" y="47.9" fill="#131722" font-size="12" font-weight="normal" textLength="43.78" lengthAdjust="spacingAndGlyphs">Average</text>
<text x="109.3" y="47.9" fill="#131722" font-size="12" font-weight="normal" textLength="31.09" lengthAdjust="spacingAndGlyphs">Triple</text>
<text x="145.04" y="47.9" fill="#131722" font-size="12" font-weight="normal" textLength="21.89" lengthAdjust="spacingAndGlyphs">(50,</text>
<text x="171.57" y="47.9" fill="#131722" font-size="12" font-weight="normal" textLength="24.03" lengthAdjust="spacingAndGlyphs">100,</text>
<text x="198.95" y="47.9" fill="#131722" font-size="12" font-weight="normal" textLength="24.58" lengthAdjust="spacingAndGlyphs">200,</text>
<text x="227.15" y="47.9" fill="#131722" font-size="12" font-weight="normal" textLength="42.57" lengthAdjust="spacingAndGlyphs">Simple)</text>
<text x="278.32" y="47.9" fill="#ff6d00" font-size="12" font-weight="normal" textLength="42.67" lengthAdjust="spacingAndGlyphs">16.8061</text>
<text x="329.79" y="47.9" fill="#2196f3" font-size="12" font-weight="normal" textLength="43.8" lengthAdjust="spacingAndGlyphs">16.9370</text>
<text x="381.6" y="47.9" fill="#26c6da" font-size="12" font-weight="normal" textLength="43.6" lengthAdjust="spacingAndGlyphs">17.1828</text>
<text x="17.83" y="455.2" fill="#131722" font-size="12" font-weight="normal" textLength="43.13" lengthAdjust="spacingAndGlyphs">RSI (14)</text>
<text x="69.9" y="455.2" fill="#7e57c2" font-size="12" font-weight="normal" textLength="29.23" lengthAdjust="spacingAndGlyphs">49.43</text>
<text x="35.6" y="591.3" fill="#131722" font-size="13" font-weight="normal" textLength="71.84" lengthAdjust="spacingAndGlyphs">TradingView</text>
</g>
<g fill="#131722"><path d="M10 581 H18 V591.3 H13.8 V585.2 H10 Z"/><circle cx="21.9" cy="583.3" r="1.65"/><path d="M24.8 581 H30.5 L26.9 591.3 H22.1 Z"/></g>
</svg>
</body></html>
